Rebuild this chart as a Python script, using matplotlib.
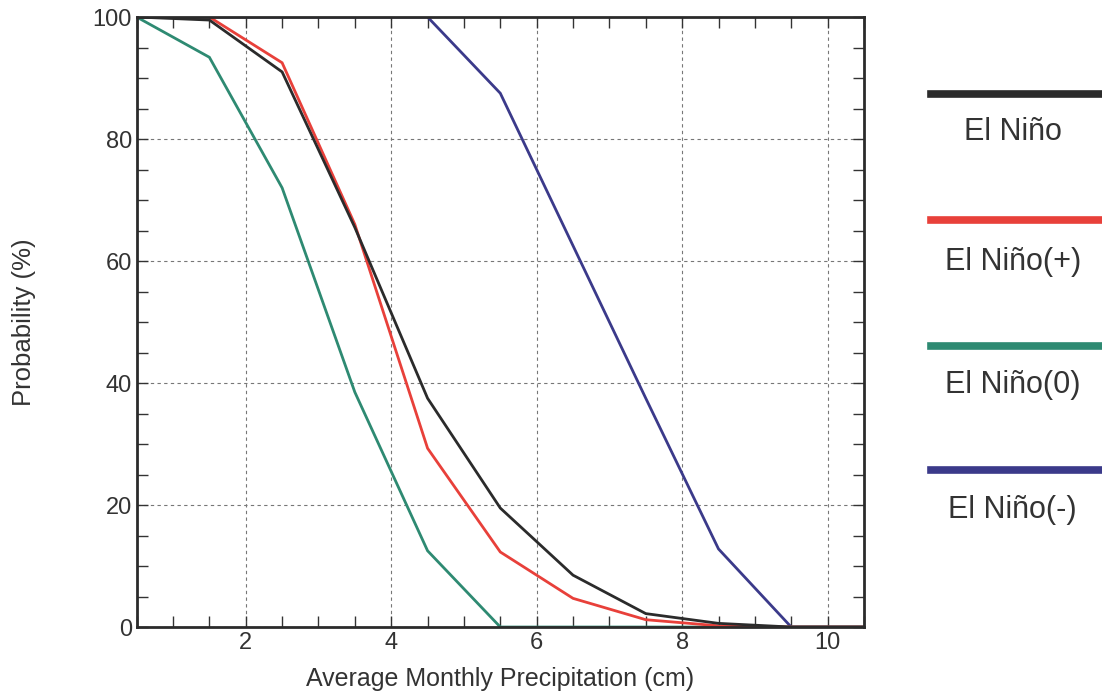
import numpy as np
import matplotlib
matplotlib.use('Agg')
import matplotlib.pyplot as plt
from matplotlib.ticker import MultipleLocator
from matplotlib.lines import Line2D

plt.rcParams['font.family'] = ['Liberation Sans', 'DejaVu Sans']

precip = [0.5, 1.5, 2.5, 3.5, 4.5, 5.5, 6.5, 7.5, 8.5, 9.5, 10.5]
el_nino = [100, 99.5, 91, 65.5, 37.5, 19.5, 8.5, 2.2, 0.6, 0, 0]
el_nino_pos = [100, 100, 92.5, 66, 29.3, 12.3, 4.7, 1.2, 0.2, 0, 0]
el_nino_zero = [100, 93.4, 72, 38.5, 12.5, 0, 0, 0, 0, 0, 0]
el_nino_neg = [100, 100, 100, 100, 100, 87.5, 62.5, 37.5, 12.8, 0, 0]

labels = ["El Niño", "El Niño(+)", "El Niño(0)", "El Niño(-)"]
colors = ["#2b2b2b", "#e8403a", "#2e8a72", "#3b3a8a"]
series = [el_nino, el_nino_pos, el_nino_zero, el_nino_neg]

txt = "#333333"
fig = plt.figure(figsize=(11.02, 6.94), dpi=100)
ax = fig.add_axes([0.124, 0.0965, 0.66, 0.879])

# draw in reverse so black sits on top like the print
for vals, c in list(zip(series, colors))[::-1]:
    ax.plot(precip, vals, color=c, lw=2.0, solid_joinstyle='miter')

ax.set_xlim(0.5, 10.5)
ax.set_ylim(0, 100)
ax.xaxis.set_major_locator(MultipleLocator(2))
ax.xaxis.set_minor_locator(MultipleLocator(0.5))
ax.yaxis.set_major_locator(MultipleLocator(20))
ax.yaxis.set_minor_locator(MultipleLocator(5))
ax.tick_params(which='both', direction='in', top=True, right=True, colors=txt,
               labelsize=17, width=1)
ax.tick_params(which='major', length=8)
ax.tick_params(which='minor', length=8)
ax.grid(True, which='major', linestyle=(0, (3, 3)), color='#777777', lw=0.8)
for sp in ax.spines.values():
    sp.set_linewidth(2)
    sp.set_color('#2b2b2b')

ax.set_xlabel("Average Monthly Precipitation (cm)", fontsize=18, color=txt)
ax.set_ylabel("Probability (%)", fontsize=18.5, color=txt)
ax.xaxis.set_label_coords(0.5, -0.066)
ax.yaxis.set_label_coords(-0.139, 0.5)

# legend on the right, line with label underneath
line_y = [0.865, 0.683, 0.502, 0.323]
text_y = [0.810, 0.622, 0.445, 0.265]
for lab, c, ly, ty in zip(labels, colors, line_y, text_y):
    fig.add_artist(Line2D([0.8445, 0.998], [ly, ly], color=c, lw=5.5,
                          transform=fig.transFigure))
    fig.text(0.919, ty, lab, ha='center', va='center', fontsize=22, color=txt)

fig.savefig("out.png", dpi=100)
